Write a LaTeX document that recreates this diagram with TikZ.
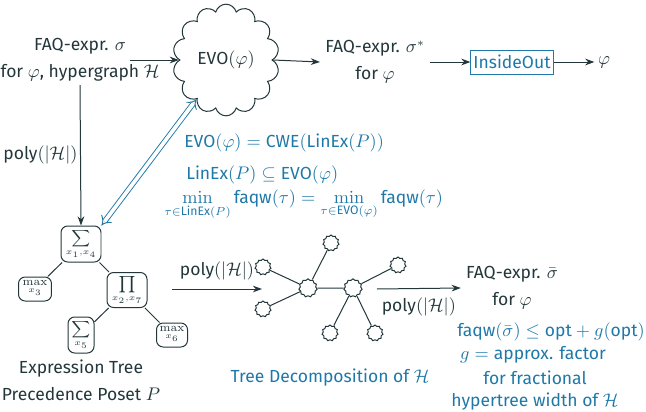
\documentclass[tikz,border=0pt]{standalone}
\usepackage{amsmath}
\usepackage[no-math]{fontspec}
\setmainfont{Fira Sans}
\usetikzlibrary{shapes.symbols,arrows.meta}
\definecolor{ink}{HTML}{23373B}
\definecolor{accent}{HTML}{1E78A8}

\begin{document}
\begin{tikzpicture}[x=0.6pt,y=-0.6pt,
  font=\fontsize{10.5}{16.2}\selectfont, color=ink,
  txt/.style={align=center, inner sep=2pt},
  note/.style={text=accent, inner sep=0pt},
  arr/.style={-{Stealth[length=5.5pt,width=4pt]}, line width=0.6pt},
  equiv/.style={double=white, draw=accent, line width=0.55pt, double distance=2.2pt,
                {Implies}-{Implies}},
  bigcloud/.style={cloud, cloud puffs=14, draw, line width=0.6pt, aspect=1,
                   minimum width=64pt, minimum height=67pt, inner sep=0pt},
  bag/.style={cloud, cloud puffs=11, draw, line width=0.6pt, aspect=1,
              minimum size=9.6pt, inner sep=0pt},
  hub/.style={bag, minimum size=11pt},
  tnode/.style={draw, rounded corners=4pt, line width=0.6pt, inner sep=1pt,
                font=\fontsize{7}{8}\selectfont},
  tedge/.style={line width=0.6pt}]

\useasboundingbox (0,0) rectangle (646,412);

% --- top row: input, variable orders, output, InsideOut
\node[txt] (in1) at (80,46) {FAQ-expr. $\sigma$};
\node[txt] (in2) at (80,73) {for $\varphi$, hypergraph $\mathcal{H}$};
\node[bigcloud] (evo) at (226,60) {EVO$(\varphi)$};
\node[txt, inner sep=3pt] (out) at (375,62) {FAQ-expr. $\sigma^*$\\for $\varphi$};
\node[draw=accent, text=accent, line width=0.6pt, minimum width=48pt,
      minimum height=14.4pt, inner sep=1.5pt] (io) at (512,62) {InsideOut};
\node[inner sep=2pt] (res1) at (604,62) {$\varphi$};

\draw[arr] (in1.east |- evo.west) -- (evo.west);
\draw[arr] (evo.east) -- (out.west);
\draw[arr] (out.east) -- (io.west);
\draw[arr] (io.east) -- (res1.west);

% --- expression tree of the FAQ expression
\node[tnode, minimum width=24pt, minimum height=21.6pt] (s14) at (81,244) {$\displaystyle\sum_{x_1,x_4}$};
\node[tnode, minimum width=19.8pt, minimum height=14.4pt] (m3) at (35,289) {$\displaystyle\max_{x_3}$};
\node[tnode, minimum width=24pt, minimum height=21pt] (p27) at (127,290) {$\displaystyle\prod_{x_2,x_7}$};
\node[tnode, minimum width=15.6pt, minimum height=21.6pt] (s5) at (81,335) {$\displaystyle\sum_{x_5}$};
\node[tnode, minimum width=18.6pt, minimum height=14.4pt] (m6) at (172,335) {$\displaystyle\max_{x_6}$};
\draw[tedge] (s14) -- (m3);
\draw[tedge] (s14) -- (p27);
\draw[tedge] (p27) -- (s5);
\draw[tedge] (p27) -- (m6);
\node[txt] (etree) at (81,380) {Expression Tree\\Precedence Poset $P$};

\draw[arr] (in2.south) -- node[left, inner sep=1.5pt] {poly$(|\mathcal{H}|)$} (s14.north);

% --- correspondence between orders and linear extensions
\draw[equiv] (s14.north east) -- (evo);
\node[note, anchor=west] (eq1) at (184,143) {$\text{EVO}(\varphi)=\text{CWE}(\text{LinEx}(P))$};
\node[note, anchor=west] (eq2) at (186,175) {$\text{LinEx}(P)\subseteq\text{EVO}(\varphi)$};
\node[note, anchor=west] (eq3) at (164,205)
  {$\displaystyle\min_{\tau\in\text{LinEx}(P)}\text{faqw}(\tau)=\min_{\tau\in\text{EVO}(\varphi)}\text{faqw}(\tau)$};

% --- tree decomposition
\coordinate (ta) at (172,289);
\coordinate (tb) at (262,289);
\draw[arr] (ta) -- node[above, inner sep=5pt] {poly$(|\mathcal{H}|)$} (tb);

\node[bag] (b1) at (263,267) {};
\node[bag] (b2) at (263,309) {};
\node[hub] (ha) at (308,288) {};
\node[bag] (b3) at (331,243) {};
\node[hub] (hb) at (353,288) {};
\node[bag] (b4) at (398,265) {};
\node[bag] (b5) at (330,333) {};
\node[bag] (b6) at (375,333) {};
\draw[tedge] (ha) -- (b1);
\draw[tedge] (ha) -- (b2);
\draw[tedge] (ha) -- (b3);
\draw[tedge] (ha) -- (hb);
\draw[tedge] (hb) -- (b4);
\draw[tedge] (hb) -- (b5);
\draw[tedge] (hb) -- (b6);
\node[note] (tdlabel) at (330,378) {Tree Decomposition of $\mathcal{H}$};

% --- resulting FAQ expression and its width bound
\node[txt, inner sep=3pt] (res) at (512,288) {FAQ-expr. $\bar{\sigma}$\\for $\varphi$};
\coordinate (qa) at (377,289);
\draw[arr] (qa) -- node[below, inner sep=5pt] {poly$(|\mathcal{H}|)$} (res.west);

\node[note, anchor=east] (w1) at (645,332) {$\text{faqw}(\bar{\sigma})\leq\text{opt}+g(\text{opt})$};
\node[note] (w2) at (533,355) {$g=\text{approx. factor}$};
\node[note] (w3) at (535,378) {for fractional};
\node[note] (w4) at (535,402) {hypertree width of $\mathcal{H}$};
\end{tikzpicture}
\end{document}
